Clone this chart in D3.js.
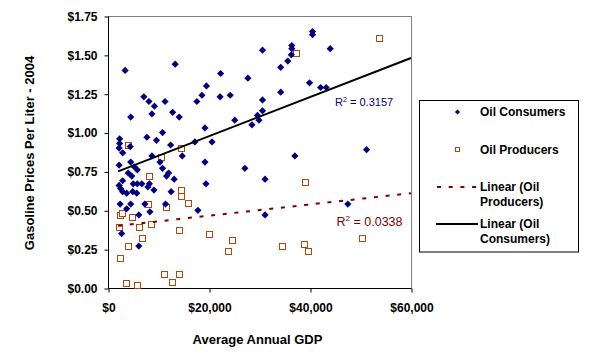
<!DOCTYPE html>
<html><head><meta charset="utf-8">
<script src="https://cdn.jsdelivr.net/npm/d3@7/dist/d3.min.js"></script>
<style>
html,body{margin:0;padding:0;background:#fff;}
svg{display:block;font-family:"Liberation Sans",Arial,sans-serif;}
</style></head>
<body><svg id="c" width="591" height="357"></svg>
<script>
// ---- data ----
const consumersGDP = [3400,13300,7100,8100,9200,11300,17600,18600,19500,4500,8700,12800,14100,19200,10800,7700,9600,2300,2300,4400,12400,17200,2200,2900,14700,8700,10300,19200,4500,2200,5200,5800,10800,4000,4700,12000,11600,13100,2900,2200,2500,5000,5800,6700,8200,7900,9100,12500,19400,2900,3700,4900,5700,2400,3700,4500,6100,8300,7300,11400,17800,2700,6100,30600,36400,36400,36300,35600,34200,22300,27700,39900,34200,30600,22200,24200,30600,29600,29900,25100,28500,20600,27100,37000,31100,31100,40500,40500,44000,42100,43200,51200,47500];
const consumersPrice = [1.40,1.44,1.23,1.20,1.17,1.20,1.20,1.24,1.30,1.10,1.12,1.13,1.10,1.03,1.00,0.97,0.95,0.96,0.93,0.91,0.92,0.94,0.90,0.87,0.85,0.85,0.81,0.81,0.81,0.79,0.78,0.76,0.77,0.74,0.72,0.74,0.72,0.70,0.69,0.66,0.64,0.67,0.67,0.67,0.67,0.65,0.63,0.62,0.67,0.62,0.61,0.62,0.61,0.54,0.51,0.54,0.47,0.49,0.54,0.54,0.50,0.35,0.27,1.53,1.56,1.54,1.50,1.46,1.42,1.38,1.35,1.32,1.26,1.21,1.23,1.24,1.14,1.11,1.08,1.08,1.05,0.94,0.77,0.85,0.70,0.47,1.65,1.63,1.54,1.29,1.29,0.89,0.54];
const producersGDP = [4000,14500,10400,8100,14400,14400,7900,11500,15800,2400,2800,4800,2100,6100,8500,14000,20000,6700,3900,2400,11100,14000,12600,3500,5700,37200,39000,24600,23800,34500,38800,39700,53600,50200];
const producersPrice = [0.92,0.90,0.84,0.72,0.63,0.59,0.54,0.52,0.55,0.47,0.48,0.46,0.39,0.39,0.41,0.37,0.35,0.32,0.27,0.19,0.09,0.09,0.04,0.03,0.02,1.51,0.68,0.31,0.24,0.27,0.28,0.24,1.61,0.32];
const consumersTrendGDP = [2000, 60000];
const consumersTrendPrice = [0.75, 1.48];
const producersTrendGDP = [2000, 60000];
const producersTrendPrice = [0.40, 0.61];
const xTicks = [0, 20000, 40000, 60000];
const yTicks = [0, 0.25, 0.5, 0.75, 1.0, 1.25, 1.5, 1.75];
const seriesNames = ["Oil Consumers", "Oil Producers"];
const trendNames = [["Linear (Oil", "Producers)"], ["Linear (Oil", "Consumers)"]];
const r2Labels = ["0.3157", "0.0338"];

// ---- drawing ----
const svg = d3.select("#c");
const x = d3.scaleLinear().domain([0, 60000]).range([108, 411]);
const y = d3.scaleLinear().domain([0, 1.75]).range([288, 16]);
const navy = "#000080", brown = "#B0480C", maroon = "#800000";

// plot area border (gray)
svg.append("rect").attr("x", x(0) + 0.5).attr("y", y(1.75) + 0.5)
  .attr("width", x(60000) - x(0)).attr("height", y(0) - y(1.75))
  .attr("fill", "none").attr("stroke", "#808080").attr("stroke-width", 1);

// axes
const yAxis = d3.axisLeft(y).tickValues(yTicks).tickSize(4).tickPadding(7)
  .tickFormat(d => "$" + d.toFixed(2));
const gy = svg.append("g").attr("transform", `translate(${x(0) + 0.5},0.5)`).call(yAxis);
const xAxis = d3.axisBottom(x).tickValues(xTicks).tickSize(4).tickPadding(11)
  .tickFormat(d => "$" + d3.format(",")(d));
const gx = svg.append("g").attr("transform", `translate(0.5,${y(0) + 0.5})`).call(xAxis);
[gx, gy].forEach(g => {
  g.select(".domain").attr("stroke", "#000");
  g.selectAll(".tick line").attr("stroke", "#000");
  g.selectAll(".tick text").attr("fill", "#000").attr("font-size", 12)
    .attr("font-weight", "bold").attr("font-family", "Liberation Sans, Arial, sans-serif");
});
gx.select(".domain").attr("d", `M${x(0)},0H${x(60000)}`);
gy.select(".domain").attr("d", `M0,${y(0)}V${y(1.75)}`);

// axis titles
svg.append("text").attr("x", 257.5).attr("y", 343.5).attr("text-anchor", "middle")
  .attr("font-size", 13).attr("font-weight", "bold").text("Average Annual GDP");
svg.append("text").attr("transform", "translate(34,153) rotate(-90)").attr("text-anchor", "middle")
  .attr("font-size", 13).attr("font-weight", "bold").text("Gasoline Prices Per Liter - 2004");

const diamond = s => `M0,${-s}L${s},0L0,${s}L${-s},0Z`;

// producers markers
svg.append("g").selectAll("rect").data(producersGDP.map((g, i) => [g, producersPrice[i]]))
  .join("rect")
  .attr("x", d => Math.round(x(d[0])) - 2.5).attr("y", d => Math.round(y(d[1])) - 2.5)
  .attr("width", 6).attr("height", 6).attr("fill", "#fff")
  .attr("stroke", brown).attr("stroke-width", 1);

// consumers markers
svg.append("g").selectAll("path").data(consumersGDP.map((g, i) => [g, consumersPrice[i]]))
  .join("path")
  .attr("transform", d => `translate(${x(d[0])},${y(d[1])})`)
  .attr("d", diamond(3.6)).attr("fill", navy);

// trend lines
const line = d3.line().x(d => x(d[0])).y(d => y(d[1]));
svg.append("path").datum(producersTrendGDP.map((g, i) => [g, producersTrendPrice[i]]))
  .attr("d", line).attr("fill", "none").attr("stroke", maroon).attr("stroke-width", 2)
  .attr("stroke-dasharray", "4,7.7");
svg.append("path").datum(consumersTrendGDP.map((g, i) => [g, consumersTrendPrice[i]]))
  .attr("d", line).attr("fill", "none").attr("stroke", "#000").attr("stroke-width", 2);

// R² labels
function r2(xp, yp, val, color, size) {
  const t = svg.append("text").attr("x", xp).attr("y", yp).attr("fill", color)
    .attr("font-size", size).attr("font-family", "Arial, Liberation Sans, sans-serif");
  t.append("tspan").text("R");
  t.append("tspan").attr("dy", -size * 0.4).attr("font-size", size * 0.65).text("2");
  t.append("tspan").attr("dy", size * 0.4).text(" = " + val);
}
r2(335, 106, r2Labels[0], navy, 11);
r2(336.5, 225.5, r2Labels[1], maroon, 12.5);

// legend
const lg = svg.append("g");
lg.append("rect").attr("x", 419.5).attr("y", 100.5).attr("width", 159).attr("height", 151.5)
  .attr("fill", "#fff").attr("stroke", "#000").attr("stroke-width", 1);
lg.append("path").attr("transform", "translate(457.5,112)").attr("d", diamond(2.6)).attr("fill", navy);
lg.append("rect").attr("x", 455.5).attr("y", 147.5).attr("width", 4).attr("height", 4)
  .attr("fill", "#fff").attr("stroke", brown);
lg.append("line").attr("x1", 437).attr("x2", 478).attr("y1", 187).attr("y2", 187)
  .attr("stroke", maroon).attr("stroke-width", 2).attr("stroke-dasharray", "4,7.7");
lg.append("line").attr("x1", 436).attr("x2", 478).attr("y1", 224).attr("y2", 224)
  .attr("stroke", "#000").attr("stroke-width", 2);
const lt = [[seriesNames[0], 116], [seriesNames[1], 153.5],
  [trendNames[0][0], 191], [trendNames[0][1], 205.5],
  [trendNames[1][0], 228], [trendNames[1][1], 243]];
lg.selectAll("text.l").data(lt).join("text").attr("class", "l")
  .attr("x", 480).attr("y", d => d[1]).attr("font-size", 12).attr("font-weight", "bold")
  .text(d => d[0]);
</script></body></html>
